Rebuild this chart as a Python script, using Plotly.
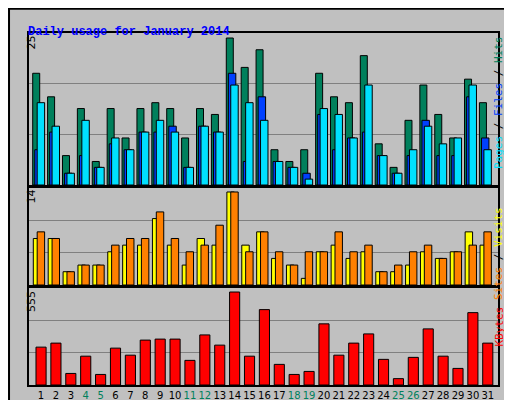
import plotly.graph_objects as go

days = list(range(1, 32))
weekends = [4, 5, 11, 12, 18, 19, 25, 26]

hits = [19, 15, 5, 13, 4, 13, 8, 13, 14, 13, 8, 13, 12, 25, 20, 23,
        6, 4, 6, 19, 15, 14, 22, 7, 3, 11, 17, 12, 8, 18, 14]
files = [6, 9, 2, 5, 3, 7, 6, 9, 9, 10, 3, 10, 9, 19, 4, 15,
         4, 3, 2, 12, 6, 8, 9, 5, 2, 5, 11, 5, 5, 15, 8]
pages = [14, 10, 2, 11, 3, 8, 6, 9, 11, 9, 3, 10, 9, 17, 14, 11,
         4, 3, 1, 13, 12, 8, 17, 5, 2, 6, 10, 7, 8, 17, 6]
visits = [7, 7, 2, 3, 3, 5, 6, 6, 10, 6, 3, 7, 6, 14, 6, 8,
          4, 3, 1, 5, 6, 4, 5, 2, 2, 3, 5, 4, 5, 8, 6]
sites = [8, 7, 2, 3, 3, 6, 7, 7, 11, 7, 5, 6, 9, 14, 5, 8,
         5, 3, 5, 5, 8, 5, 6, 2, 3, 5, 6, 4, 5, 6, 8]
kbytes = [226, 250, 69, 172, 63, 220, 178, 268, 274, 274, 147, 299, 238, 555, 172, 450,
          123, 63, 81, 365, 178, 250, 305, 153, 38, 165, 335, 172, 99, 432, 250]

tick_text = [f'<span style="color:#00805C">{d}</span>' if d in weekends else str(d) for d in days]

line = dict(color="black", width=1)
fig = go.Figure()
fig.add_bar(x=days, y=hits, width=0.47, offset=-0.56, marker=dict(color="#00805C", line=line), xaxis="x", yaxis="y")
fig.add_bar(x=days, y=files, width=0.5, offset=-0.42, marker=dict(color="#0040FF", line=line), xaxis="x", yaxis="y")
fig.add_bar(x=days, y=pages, width=0.5, offset=-0.26, marker=dict(color="#00E0FF", line=line), xaxis="x", yaxis="y")
fig.add_bar(x=days, y=visits, width=0.5, offset=-0.52, marker=dict(color="#FFFF00", line=line), xaxis="x2", yaxis="y2")
fig.add_bar(x=days, y=sites, width=0.5, offset=-0.26, marker=dict(color="#FF8000", line=line), xaxis="x2", yaxis="y2")
fig.add_bar(x=days, y=kbytes, width=0.68, offset=-0.34, marker=dict(color="#FF0000", line=line), xaxis="x3", yaxis="y3")

xr = [0.17, 31.72]
xbase = dict(range=xr, domain=[0.0404, 0.958], showgrid=False, zeroline=False, fixedrange=True,
             showline=True, mirror=True, linecolor="black", linewidth=2, automargin=False)
fig.update_layout(
    width=512, height=400, margin=dict(l=0, r=0, t=0, b=0, pad=0), autosize=False,
    paper_bgcolor="#C0C0C0", plot_bgcolor="#C0C0C0", showlegend=False, barmode="overlay",
    font=dict(family="DejaVu Sans", size=11, color="black"),
    xaxis=dict(xbase, anchor="y", showticklabels=False),
    xaxis2=dict(xbase, anchor="y2", showticklabels=False),
    xaxis3=dict(xbase, anchor="y3", tickvals=days, ticktext=tick_text, ticks="", tickangle=0,
                tickfont=dict(size=10)),
)
for name, dom, top in [("yaxis", [0.5575, 0.9375], 25.85), ("yaxis2", [0.3075, 0.55], 14.6),
                       ("yaxis3", [0.0575, 0.3], 579)]:
    fig.layout[name] = dict(domain=dom, range=[0, top], tickvals=[top / 3, 2 * top / 3],
                            showticklabels=False, gridcolor="#808080", gridwidth=1, zeroline=False,
                            showline=True, mirror=True, linecolor="black", linewidth=2,
                            fixedrange=True, automargin=False)

anns = [
    dict(x=18 / 512, y=1 - 15 / 400, text="<b>Daily usage for January 2014</b>", xanchor="left",
         font=dict(family="Liberation Mono", size=12, color="#0000FF")),
    dict(x=15 / 512, y=1 - 26 / 400, text="25", textangle=-90, yanchor="top"),
    dict(x=15 / 512, y=1 - 180 / 400, text="14", textangle=-90, yanchor="top"),
    dict(x=15 / 512, y=1 - 281 / 400, text="555", textangle=-90, yanchor="top"),
    dict(x=499 / 512, y=1 - 26 / 400, textangle=-90, yanchor="top",
         text='<span style="color:#00E0FF">Pages</span> / <span style="color:#0040FF">Files</span> / '
              '<span style="color:#00805C">Hits</span>', font=dict(family="DejaVu Sans Mono", size=11)),
    dict(x=499 / 512, y=1 - 197 / 400, textangle=-90, yanchor="top",
         text='<span style="color:#FF8000">Sites</span> / <span style="color:#FFFF00">Visits</span>',
         font=dict(family="DejaVu Sans Mono", size=11)),
    dict(x=499 / 512, y=1 - 297 / 400, textangle=-90, yanchor="top",
         text='<span style="color:#FF0000">KBytes</span>', font=dict(family="DejaVu Sans Mono", size=11)),
]
for a in anns:
    a.setdefault("xref", "paper")
    a.setdefault("yref", "paper")
    a.setdefault("showarrow", False)
    fig.add_annotation(**a)

fig.add_shape(type="rect", xref="paper", yref="paper", x0=504 / 512, x1=510 / 512, y0=2 / 400, y1=1 - 4 / 400,
              fillcolor="#808080", line=dict(width=0))
fig.add_shape(type="rect", xref="paper", yref="paper", x0=4 / 512, x1=510 / 512, y0=2 / 400, y1=8 / 400,
              fillcolor="#808080", line=dict(width=0))
fig.add_shape(type="rect", xref="paper", yref="paper", x0=0.002, x1=0.998, y0=0.002, y1=0.998,
              line=dict(color="black", width=2))

fig.write_html("out.html")
